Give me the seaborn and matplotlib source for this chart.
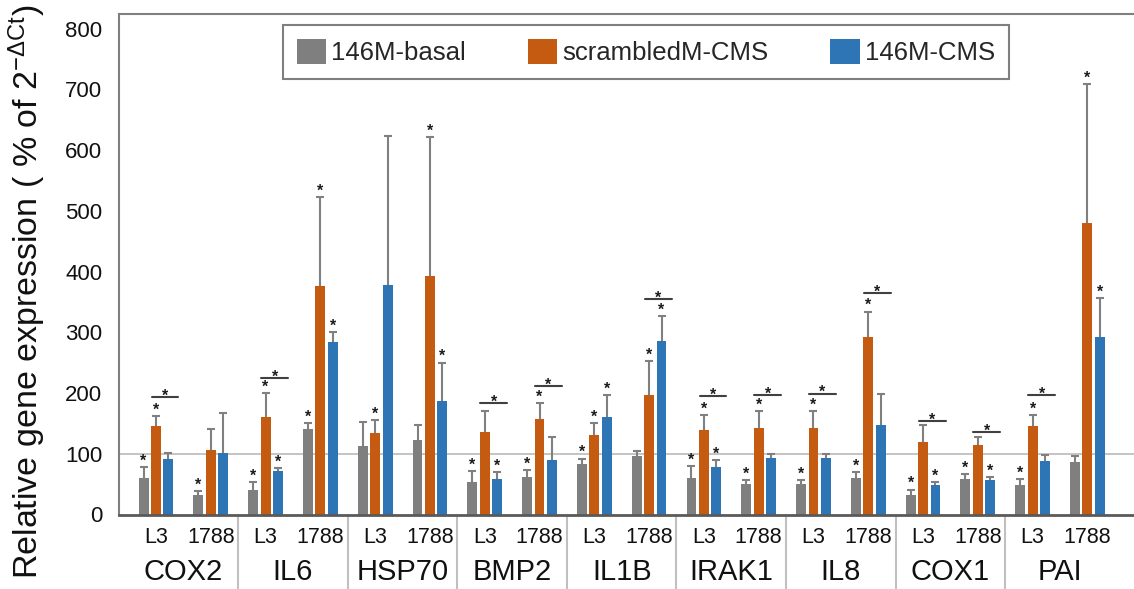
import numpy as np
import pandas as pd
import matplotlib
matplotlib.use("Agg")
import matplotlib.pyplot as plt
from matplotlib import font_manager
from matplotlib.container import BarContainer
import seaborn as sns

# ---------------- data ----------------
genes = ["COX2", "IL6", "HSP70", "BMP2", "IL1B", "IRAK1", "IL8", "COX1", "PAI"]
cells = ["L3", "1788"]
series = ["146M-basal", "scrambledM-CMS", "146M-CMS"]
colors = ["#7F7F7F", "#C55A11", "#2E75B6"]

basal_mean = [60, 32, 40, 141, 112, 123, 53, 62, 83, 97, 60, 51, 51, 60, 32, 58, 48, 87]
basal_err = [18, 6, 13, 10, 41, 24, 19, 11, 9, 8, 20, 6, 6, 10, 9, 9, 10, 10]
scr_mean = [145, 106, 160, 377, 134, 392, 136, 157, 131, 196, 139, 143, 143, 292, 120, 115, 146, 480]
scr_err = [17, 35, 40, 146, 21, 229, 34, 26, 20, 56, 25, 27, 27, 42, 28, 12, 18, 229]
cms_mean = [92, 101, 72, 284, 378, 187, 58, 89, 161, 285, 79, 93, 93, 148, 48, 56, 88, 292]
cms_err = [9, 66, 5, 16, 245, 63, 12, 39, 36, 41, 10, 6, 6, 50, 6, 5, 10, 64]

# significance star above each bar (1 = star)
basal_star = [1, 1, 1, 1, 0, 0, 1, 1, 1, 0, 1, 1, 1, 1, 1, 1, 1, 0]
scr_star = [1, 0, 1, 1, 1, 1, 0, 1, 1, 1, 1, 1, 1, 1, 0, 0, 1, 1]
cms_star = [0, 0, 1, 1, 0, 1, 1, 0, 1, 1, 1, 0, 0, 0, 1, 1, 0, 1]

# bracket comparisons (subgroup index, height)
bracket_sub = [0, 2, 6, 7, 9, 10, 11, 12, 13, 14, 15, 16]
bracket_val = [193, 225, 184, 211, 354, 195, 197, 199, 365, 154, 136, 197]

yticks = [0, 100, 200, 300, 400, 500, 600, 700, 800]
ref_level = 100

# ---------------- style ----------------
sns.set_style("white")
plt.rcParams["font.family"] = ["Liberation Sans", "DejaVu Sans"]
plt.rcParams["mathtext.fontset"] = "custom"
plt.rcParams["mathtext.rm"] = "Liberation Sans"
plt.rcParams["mathtext.it"] = "Liberation Sans:italic"
plt.rcParams["mathtext.bf"] = "Liberation Sans:bold"

try:
    font_manager.findfont("Liberation Sans Narrow", fallback_to_default=False)
    sub_family = ["Liberation Sans Narrow", "Liberation Sans"]
    sub_size = 17
except Exception:
    sub_family = ["Liberation Sans", "DejaVu Sans"]
    sub_size = 15.5

subs = [f"{g} {c}" for g in genes for c in cells]
means = [basal_mean, scr_mean, cms_mean]
errs = [basal_err, scr_err, cms_err]
stars = [basal_star, scr_star, cms_star]

df = pd.DataFrame({
    "sub": subs * 3,
    "value": basal_mean + scr_mean + cms_mean,
    "series": [s for s in series for _ in subs],
})

W, H = 1134, 589
fig = plt.figure(figsize=(W / 100, H / 100), dpi=100)
ax = fig.add_axes([119 / W, 74.5 / H, 1 - 119 / W, 500.5 / H])

ax.axhline(ref_level, color="#BFBFBF", lw=1.3, zorder=0.5)

sns.barplot(data=df, x="sub", y="value", hue="series", order=subs,
            hue_order=series, palette=colors, width=0.68, gap=0.2,
            saturation=1, errorbar=None, linewidth=0, ax=ax, zorder=2)

handles, labels = ax.get_legend_handles_labels()
if ax.get_legend() is not None:
    ax.get_legend().remove()

star_kw = dict(textcoords="offset points", ha="center", va="baseline",
               fontsize=11.5, fontweight="bold", color="#1a1a1a", zorder=4)

bar_conts = [c for c in ax.containers if isinstance(c, BarContainer)]
for k, cont in enumerate(bar_conts):
    xs = np.array([p.get_x() + p.get_width() / 2 for p in cont.patches])
    m = np.array(means[k], dtype=float)
    e = np.array(errs[k], dtype=float)
    _, caps, _ = ax.errorbar(xs, m, yerr=[np.zeros_like(e), e], fmt="none",
                             ecolor="#808080", elinewidth=1.5, capsize=2.8,
                             capthick=1.5, zorder=3)
    for cl in caps:
        if np.allclose(cl.get_ydata(), m):
            cl.set_visible(False)
    for x, mv, ev, s in zip(xs, m, e, stars[k]):
        if s:
            ax.annotate("*", xy=(x, mv + ev), xytext=(0, 1.0), **star_kw)

for i, yv in zip(bracket_sub, bracket_val):
    x0, x1 = i - 0.08, i + 0.41
    ax.plot([x0, x1], [yv, yv], color="#404040", lw=1.5, zorder=4)
    ax.annotate("*", xy=((x0 + x1) / 2, yv), xytext=(0, -2.6), **star_kw)

ax.set_xlim(-0.675, 17.85)
ax.set_ylim(0, 824)
ax.set_yticks(yticks)
ax.set_yticklabels([str(t) for t in yticks], fontsize=16, color="#111111")
ax.set_xticks(range(len(subs)))
ax.set_xticklabels([c for g in genes for c in cells], fontsize=sub_size,
                   family=sub_family, color="#111111")
ax.tick_params(axis="x", length=0, pad=9.0)
ax.tick_params(axis="y", length=0, pad=12)
ax.set_xlabel("")
ax.set_ylabel("")

for g, name in enumerate(genes):
    ax.annotate(name, xy=(2 * g + 0.5, 0), xycoords=("data", "axes fraction"),
                xytext=(0, -47.2), textcoords="offset points", ha="center",
                va="baseline", fontsize=21, color="#111111", annotation_clip=False)

trans = ax.get_xaxis_transform()
for g in range(len(genes) - 1):
    xsep = 2 * g + 1.5
    ax.plot([xsep, xsep], [0, -0.16], transform=trans, clip_on=False,
            color="#C0C0C0", lw=1.5)

for side in ["left", "top"]:
    ax.spines[side].set_color("#7F7F7F")
    ax.spines[side].set_linewidth(1.5)
ax.spines["bottom"].set_color("#5A5A5A")
ax.spines["bottom"].set_linewidth(2)
ax.spines["right"].set_visible(False)

fig.text(27 / W, 1 - 292 / H,
         r"Relative gene expression ( % of 2$^{\mathrm{-\Delta Ct}}$)",
         rotation=90, ha="center", va="center", fontsize=24.5, color="#111111")

leg = fig.legend(handles, labels, loc="center",
                 bbox_to_anchor=(646 / W, 1 - 52 / H), ncol=3, fontsize=18.5,
                 handlelength=1.15, handleheight=1.15, handletextpad=0.2,
                 columnspacing=2.4, borderpad=0.55, frameon=True,
                 fancybox=False, edgecolor="#7F7F7F", framealpha=1)
leg.get_frame().set_linewidth(1.5)

fig.savefig("out.png", dpi=100)
